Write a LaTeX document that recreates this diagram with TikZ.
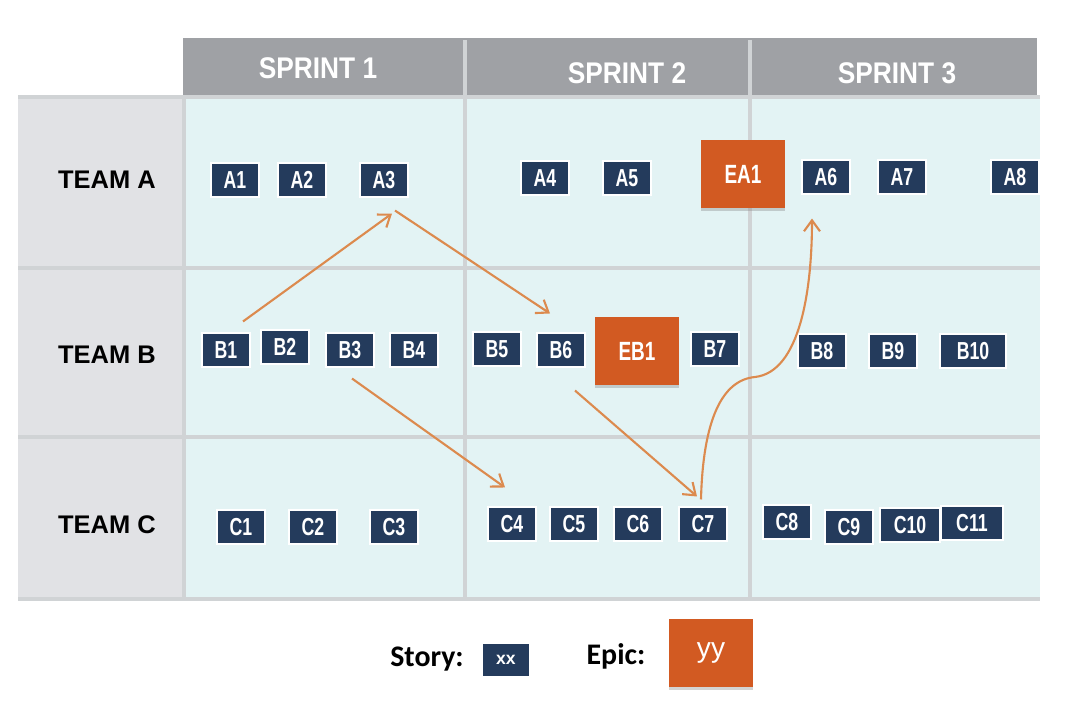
\documentclass[tikz,border=0pt]{standalone}
\usepackage{fontspec}
\setmainfont{Liberation Sans}
\newfontfamily\boxfont[FakeStretch=0.72]{Liberation Sans}
\newfontfamily\headfont[FakeStretch=0.88]{Liberation Sans}
\newfontfamily\legendfont{Carlito}
\usetikzlibrary{arrows.meta,positioning,shadows,calc}

\definecolor{storyblue}{HTML}{243B5C}
\definecolor{epicorange}{HTML}{D25A22}
\definecolor{cellcyan}{HTML}{E3F3F4}
\definecolor{teamgray}{HTML}{E1E2E5}
\definecolor{headgray}{HTML}{9FA1A5}
\definecolor{gridgray}{HTML}{D0D3D5}
\definecolor{linkorange}{HTML}{DC8A4E}

\begin{document}
\begin{tikzpicture}[
  x=0.02cm, y=-0.02cm,
  story/.style={rectangle, fill=storyblue, draw=white, line width=0.6pt, inner sep=0pt,
    minimum width=0.96cm, minimum height=0.68cm, text=white,
    font=\boxfont\bfseries\fontsize{14}{14}\selectfont},
  epic/.style={rectangle, fill=epicorange, inner sep=0pt, minimum width=1.68cm, minimum height=1.36cm,
    text=white, font=\boxfont\bfseries\fontsize{15}{15}\selectfont,
    drop shadow={shadow xshift=0pt, shadow yshift=-0.07cm, opacity=0.35}},
  link/.style={draw=linkorange, line width=1.2pt, -{Straight Barb[length=2.2mm,width=3.2mm]}},
  gridline/.style={draw=gridgray, line width=1.8pt},
  team/.style={font=\bfseries\fontsize{14.5}{14.5}\selectfont, text=black},
  sprint/.style={font=\headfont\bfseries\fontsize{17}{17}\selectfont, text=white},
  legend/.style={font=\legendfont\bfseries\fontsize{17}{17}\selectfont, text=black}
]
  \useasboundingbox (0,0) rectangle (1080,710);

  % Fondo de la tabla
  \fill[headgray] (183,38) rectangle (1037,95);
  \fill[teamgray] (18,97) rectangle (183,600);
  \fill[cellcyan] (185,97) rectangle (1040,598);

  % Lineas de la rejilla
  \draw[gridline] (18,97) -- (1040,97);
  \foreach \y in {268,437} {
    \draw[gridline] (18,\y) -- (1040,\y);
  }
  \foreach \x in {465,750} {
    \draw[gridline] (\x,40) -- (\x,598);
  }
  \draw[gridline] (184,97) -- (184,600);
  \draw[gridline] (18,599) -- (1040,599);

  % Cabeceras de sprints y equipos
  \node[sprint] (s1) at (318,68) {SPRINT 1};
  \node[sprint] (s2) at (627,73) {SPRINT 2};
  \node[sprint] (s3) at (897,73) {SPRINT 3};
  \node[team] (tA) at (107,180) {TEAM A};
  \node[team] (tB) at (107,355) {TEAM B};
  \node[team] (tC) at (107,525) {TEAM C};

  % Historias
  \foreach \name/\x/\y in {A1/235/180, A2/302/180, A3/384/180, A4/545/178, A5/627/178,
      A6/826/177, A7/902/177, A8/1015/177,
      B1/226/350, B2/285/347, B3/350/350, B4/414/350, B5/497/349, B6/561/350,
      B7/715/349, B8/822/351, B9/893/351,
      C1/241/527, C2/313/527, C3/394/527, C4/512/524, C5/574/524, C6/638/524,
      C7/703/524, C8/787/522, C9/849/527} {
    \node[story] (\name) at (\x,\y) {\name};
  }
  \node[story, minimum width=1.32cm] (B10) at (973,351) {B10};
  \node[story, minimum width=1.2cm] (C10) at (910,525) {C10};
  \node[story, minimum width=1.24cm] (C11) at (972,523) {C11};

  % Epicas
  \node[epic] (EA1) at (743,174) {EA1};
  \node[epic] (EB1) at (637,351) {EB1};

  % Dependencias
  \draw[link] ($(B1.north)+(17,-11)$) -- ($(A3.south)+(8,16)$);
  \draw[link] ($(A3.south)+(11,13)$) -- ($(B6.north)+(-11,-19)$);
  \draw[link] ($(B3.south)+(2,11)$) -- ($(C4.north)+(-7,-19)$);
  \draw[link] ($(B6.south)+(14,23)$) -- ($(C7.north)+(-6,-10)$);
  \draw[link] ($(C7.north)+(-2,-7)$) .. controls (703,420) and (722,380) .. (755,377)
    .. controls (800,372) and (812,290) .. ($(A6.south)+(-14,24)$);

  % Leyenda
  \node[legend] (storylbl) at (427,659) {Story:};
  \node[story, font=\bfseries\fontsize{10}{10}\selectfont] (xx) at (506,660) {xx};
  \node[legend] (epiclbl) at (616,656) {Epic:};
  \node[epic, font=\fontsize{16}{16}\selectfont] (yy) at (711,653) {yy};
\end{tikzpicture}
\end{document}
